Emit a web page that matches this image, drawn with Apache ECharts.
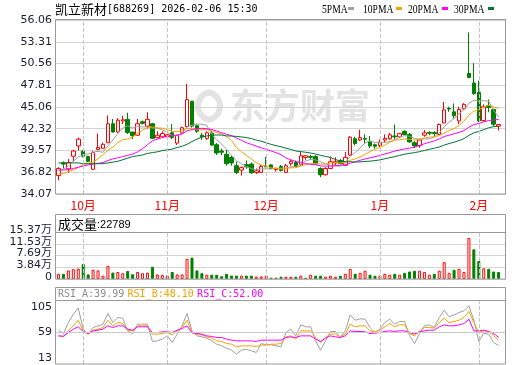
<!DOCTYPE html>
<html><head><meta charset="utf-8">
<script src="https://cdn.jsdelivr.net/npm/echarts@6/dist/echarts.min.js"></script>
<style>html,body{margin:0;padding:0;background:#fff}#c{width:520px;height:365px}</style>
</head><body><div id="c"></div>
<script>
const dates = ['2025-09-24','2025-09-25','2025-09-26','2025-09-29','2025-09-30',
'2025-10-09','2025-10-10','2025-10-13','2025-10-14','2025-10-15','2025-10-16','2025-10-17','2025-10-20','2025-10-21','2025-10-22','2025-10-23','2025-10-24','2025-10-27','2025-10-28','2025-10-29','2025-10-30','2025-10-31',
'2025-11-03','2025-11-04','2025-11-05','2025-11-06','2025-11-07','2025-11-10','2025-11-11','2025-11-12','2025-11-13','2025-11-14','2025-11-17','2025-11-18','2025-11-19','2025-11-20','2025-11-21','2025-11-24','2025-11-25','2025-11-26','2025-11-27','2025-11-28',
'2025-12-01','2025-12-02','2025-12-03','2025-12-04','2025-12-05','2025-12-08','2025-12-09','2025-12-10','2025-12-11','2025-12-12','2025-12-15','2025-12-16','2025-12-17','2025-12-18','2025-12-19','2025-12-22','2025-12-23','2025-12-24','2025-12-25','2025-12-26','2025-12-29','2025-12-30','2025-12-31',
'2026-01-05','2026-01-06','2026-01-07','2026-01-08','2026-01-09','2026-01-12','2026-01-13','2026-01-14','2026-01-15','2026-01-16','2026-01-19','2026-01-20','2026-01-21','2026-01-22','2026-01-23','2026-01-26','2026-01-27','2026-01-28','2026-01-29','2026-01-30',
'2026-02-02','2026-02-03','2026-02-04','2026-02-05','2026-02-06'];
const monthStarts = ['2025-10-09','2025-11-03','2025-12-01','2026-01-05','2026-02-02'];
const monthNames = ['10月','11月','12月','1月','2月'];

const opens = [36.4,38.0,37.25,38.85,40.15,39.5,38.8,37.2,39.7,39.85,40.55,42.95,41.9,43.3,43.5,41.9,41.5,43.2,42.65,42.95,41.2,41.3,41.3,41.8,40.5,41.8,42.6,45.8,42.7,41.5,41.1,41.75,40.3,39.5,39.1,38.7,37.65,37.1,37.8,37.85,36.8,36.8,37.6,37.75,37.15,37.55,36.8,37.9,38.05,37.75,38.7,38.8,38.8,37.3,36.5,37.3,38.0,38.3,37.7,39.0,41.05,40.9,41.1,40.65,40.3,40.2,40.9,41.05,41.4,41.3,42.0,41.6,40.55,40.2,41.5,41.85,41.85,41.6,43.05,44.9,44.45,43.3,44.85,49.3,48.1,46.9,43.35,45.25,44.75,42.65];
const closes = [37.3,37.85,38.05,39.5,41.0,38.85,38.2,39.3,39.95,40.35,42.95,41.9,43.4,43.45,41.85,41.45,42.95,43.0,43.5,41.1,41.5,41.7,41.55,41.2,41.5,42.45,46.0,42.65,42.0,41.3,41.8,40.25,39.25,39.35,37.9,38.0,36.8,37.4,37.5,36.75,37.0,37.55,37.5,37.3,37.3,37.05,37.65,38.2,37.55,38.9,38.9,38.7,37.85,36.5,37.3,38.15,38.15,37.9,38.7,41.25,40.45,41.2,41.0,40.15,40.1,40.6,41.1,41.55,41.3,41.7,41.6,40.65,40.15,40.9,41.8,41.75,41.7,42.85,44.7,44.8,43.95,44.75,45.4,48.8,46.75,43.3,45.1,45.0,42.9,42.85];
const lows = [35.8,37.3,36.75,38.15,39.55,38.7,38.1,37.1,39.6,39.75,40.5,41.85,41.8,42.9,41.65,41.0,41.4,42.85,42.35,41.0,41.1,41.2,41.1,41.0,40.25,41.7,42.5,42.45,41.8,40.9,40.9,40.15,39.0,39.0,37.65,37.65,36.6,36.4,37.25,36.6,36.6,36.75,37.45,37.25,36.9,36.9,36.75,37.65,37.45,37.65,38.4,38.4,37.8,36.2,36.4,37.25,37.7,37.8,37.6,38.9,40.2,40.75,40.45,39.9,39.8,40.0,40.55,40.95,40.95,41.2,41.5,40.55,39.9,39.9,41.3,41.5,41.3,41.5,43.0,44.45,43.6,42.9,44.7,48.7,46.6,43.15,43.2,44.4,42.65,42.1];
const highs = [37.45,38.2,38.5,39.65,41.2,39.6,38.9,39.5,41.7,40.55,44.0,43.55,43.65,43.95,44.35,41.9,43.55,43.35,44.4,43.0,42.0,42.0,41.8,42.9,41.55,42.6,48.0,45.8,42.85,41.75,42.0,42.0,40.5,39.8,39.65,38.9,38.15,37.55,38.3,38.05,37.3,37.75,38.75,37.85,37.4,37.75,37.85,38.4,38.3,39.4,39.0,39.0,39.0,37.45,37.45,38.8,38.7,38.5,39.4,41.4,41.3,42.2,41.6,41.4,40.45,40.95,41.6,41.8,42.85,41.8,42.1,41.8,40.75,41.05,42.15,42.0,42.0,43.0,45.7,45.1,45.5,45.1,45.55,54.5,50.6,48.4,45.4,46.0,44.85,42.9];

const ma5 = [37.0,37.2,37.6,38.2,38.74,39.05,39.12,39.37,39.46,39.33,40.15,40.89,41.71,42.41,42.71,42.41,42.62,42.54,42.55,42.4,42.41,42.16,41.87,41.41,41.49,41.68,42.54,42.76,42.92,42.88,42.75,41.6,40.92,40.39,39.71,38.95,38.26,37.89,37.52,37.29,37.09,37.24,37.26,37.22,37.33,37.34,37.36,37.5,37.55,37.87,38.24,38.45,38.38,38.17,37.85,37.7,37.59,37.6,38.04,38.83,39.29,39.9,40.52,40.81,40.58,40.61,40.59,40.7,40.93,41.25,41.45,41.36,41.08,41.0,41.02,41.05,41.26,41.8,42.56,43.16,43.6,44.21,44.72,45.54,45.93,45.8,45.87,45.79,44.61,43.83];
const ma10 = [36.6,36.65,36.9,37.1,37.4,37.8,37.95,38.1,38.5,39.04,39.6,40.0,40.54,40.94,41.02,41.28,41.76,42.13,42.48,42.56,42.41,42.39,42.21,41.98,41.95,42.05,42.35,42.32,42.17,42.19,42.22,42.07,41.84,41.66,41.3,40.85,39.93,39.41,38.96,38.5,38.02,37.75,37.58,37.37,37.31,37.22,37.3,37.38,37.39,37.6,37.79,37.91,37.94,37.86,37.86,37.97,38.02,37.99,38.11,38.34,38.5,38.75,39.06,39.43,39.71,39.95,40.25,40.61,40.87,40.92,41.03,40.98,40.89,40.97,41.14,41.25,41.31,41.44,41.78,42.09,42.33,42.74,43.26,44.05,44.55,44.7,45.04,45.26,45.08,44.88];
const ma20 = [37.1,37.1,37.15,37.3,37.45,37.6,37.75,37.85,37.95,38.05,38.3,38.5,38.65,38.8,38.95,39.1,39.4,39.8,40.3,40.8,41.0,41.2,41.37,41.46,41.48,41.66,42.05,42.22,42.32,42.37,42.31,42.23,42.02,41.82,41.62,41.45,41.14,40.86,40.56,40.34,40.12,39.91,39.71,39.51,39.3,39.03,38.62,38.39,38.17,38.05,37.9,37.83,37.76,37.62,37.59,37.59,37.66,37.69,37.75,37.97,38.14,38.33,38.5,38.64,38.78,38.96,39.13,39.3,39.49,39.63,39.76,39.86,39.98,40.2,40.42,40.6,40.78,41.03,41.33,41.5,41.68,41.86,42.08,42.51,42.84,42.98,43.18,43.35,43.43,43.49];
const ma30 = [38.0,38.0,38.0,38.0,38.0,37.9,37.9,37.9,37.9,37.9,38.0,38.1,38.2,38.4,38.6,38.8,38.9,39.0,39.2,39.3,39.4,39.55,39.65,39.75,39.95,40.1,40.35,40.7,41.0,41.26,41.41,41.49,41.53,41.52,41.42,41.39,41.35,41.28,41.2,41.08,40.88,40.74,40.54,40.34,40.18,40.04,39.86,39.7,39.5,39.43,39.34,39.24,39.12,38.96,38.82,38.68,38.42,38.26,38.15,38.15,38.1,38.13,38.19,38.22,38.29,38.38,38.52,38.66,38.79,38.95,39.1,39.21,39.3,39.42,39.57,39.72,39.86,40.01,40.25,40.45,40.62,40.82,41.07,41.48,41.8,41.97,42.2,42.44,42.58,42.63];

const volumes = [17000,17000,28000,32000,34000,49000,15000,30000,28000,11000,43000,21000,23000,19000,26000,15500,23000,19000,21000,40000,15000,13000,11000,23000,15000,15000,66000,70000,28000,19000,14000,14000,14000,9000,17000,11000,11000,11000,11000,11000,8000,8500,10700,4300,4300,7500,7500,7500,7500,10700,4300,13900,10700,10700,7500,10700,7500,10700,17000,33000,17000,20000,27000,14000,10700,10700,17000,14000,17000,14000,20000,24500,27000,27000,23000,14000,17000,27000,55000,20000,30000,33000,23000,134000,97000,59000,35000,33000,24500,22789];
const volUp = [1,0,1,1,1,0,0,1,1,1,1,0,1,1,0,0,1,1,1,0,1,1,1,0,1,1,1,0,0,0,1,0,0,0,0,0,0,1,0,0,1,1,1,0,1,0,1,1,0,1,0,1,0,0,1,1,1,0,1,1,0,1,1,0,0,1,1,1,0,1,0,0,0,1,1,1,0,1,1,1,0,1,1,1,0,0,1,0,0,0];

const rsiA = [62.4,57.5,73.6,85.8,94.6,63.9,56.6,66.3,68.7,71.2,86.8,73.6,80.9,79.9,61.4,57.5,71.2,71.2,71.2,45.9,46.8,49.3,54.1,44.4,56.6,68.7,86.8,61.4,54.1,52.7,50.7,46.8,42.0,39.5,36.1,33.2,27.3,33.2,34.6,32.2,29.8,42.9,41.0,41.0,39.5,38.1,59.0,63.9,54.1,70.2,67.3,67.3,46.8,33.2,46.8,60.5,60.5,51.7,61.4,84.8,77.0,79.0,78.5,66.3,59.0,63.9,73.6,78.5,71.2,75.1,75.1,54.1,42.9,57.5,68.7,70.2,66.3,80.9,91.6,81.9,84.8,88.2,90.7,98.0,77.0,45.9,57.5,56.6,44.4,39.99];
const rsiB = [54.1,52.7,61.4,68.7,77.0,61.4,56.6,62.4,63.9,66.3,77.0,68.7,73.6,72.1,62.4,61.4,68.7,68.7,68.7,56.6,56.6,57.5,59.0,55.6,61.4,66.3,77.0,59.0,56.6,55.6,52.7,50.7,46.8,45.9,42.9,41.95,38.1,39.5,39.5,39.5,38.1,41.0,40.5,41.95,41.95,42.9,52.7,54.1,49.3,61.4,61.4,61.4,51.7,44.4,51.7,56.6,56.6,52.7,56.6,71.2,67.3,68.7,68.7,61.4,60.0,62.4,67.3,72.1,67.3,70.2,70.2,57.5,54.1,61.4,66.3,66.3,65.3,73.6,79.9,73.6,75.1,77.0,80.9,89.7,73.6,59.0,61.4,60.5,54.1,48.10];
const rsiC = [54.1,53.6,59.0,63.9,67.3,60.5,57.5,61.4,62.4,63.9,68.7,66.3,68.7,68.7,63.9,62.4,67.3,67.3,67.3,59.0,59.0,60.0,60.0,59.0,62.4,64.8,68.7,58.5,57.5,56.6,54.1,53.2,51.7,51.7,49.3,47.8,46.8,46.8,46.8,46.8,45.9,47.8,47.8,47.8,47.8,47.8,51.7,52.7,51.7,54.1,54.1,54.1,49.3,45.9,50.7,54.1,52.7,51.7,54.1,61.4,60.5,60.5,60.0,57.5,58.0,59.0,60.5,61.4,60.5,61.4,61.4,59.0,56.6,60.0,61.4,62.4,62.4,67.3,70.2,68.7,68.7,70.2,72.1,78.5,61.4,61.4,62.4,60.5,57.5,52.00];

const priceTicks = ['34.07','36.82','39.57','42.32','45.06','47.81','50.56','53.31','56.06'];
const volTicks = ['0','3.84万','7.69万','11.53万','15.37万'];
const volTickValues = [0,38425,76850,115275,153700];
const rsiTicks = ['13','59','105'];
const lastVolume = '22789';

const priceTickValues = priceTicks.map(Number);
const rsiTickValues = rsiTicks.map(Number);

const chart = echarts.init(document.getElementById('c'), null, {renderer:'canvas', width:520, height:365});
const cats = dates.concat(['']);
const LBL = {fontFamily:'DejaVu Sans', fontSize:11, color:'#1a1a33'};
const monthLines = monthStarts.map(d => ({xAxis: d}));
const mkLine = (extra) => ({silent:true, symbol:['none','none'], label:{show:false}, animation:false,
  lineStyle:{type:'dashed', color:'#c6c6c6', width:1}, data: monthLines.concat(extra || [])});
const idxOf = (arr, v) => arr.findIndex(t => Math.abs(t - v) < 1e-6);

const G = [{left:56, top:20, width:450, height:174},{left:56, top:232, width:450, height:47},{left:56, top:301, width:450, height:63}];

const option = {
  animation:false,
  backgroundColor:'#ffffff',
  grid: G,
  xAxis: [0,1,2].map(g => ({
    type:'category', gridIndex:g, data:cats, boundaryGap:true,
    axisLine:{show:false}, axisTick:{show:false}, splitLine:{show:false},
    axisLabel: g === 0 ? {
      show:true, color:'#ff0000', fontSize:12, fontFamily:'Noto Sans CJK SC', margin:5,
      interval:(i, v) => monthStarts.indexOf(v) >= 0,
      formatter: v => monthNames[monthStarts.indexOf(v)] || ''
    } : {show:false}
  })),
  yAxis: [
    {type:'value', gridIndex:0, min:34.07, max:56.06, scale:true,
     axisLine:{show:false}, axisTick:{show:false, customValues:priceTickValues},
     axisLabel:Object.assign({customValues:priceTickValues, margin:4,
       formatter: v => { const k = idxOf(priceTickValues, v); return k >= 0 ? priceTicks[k] : ''; }}, LBL),
     splitLine:{show:true, lineStyle:{color:'#d4d4d4', width:1}}},
    {type:'value', gridIndex:1, min:0, max:153700,
     axisLine:{show:false}, axisTick:{show:false, customValues:volTickValues},
     axisLabel:{customValues:volTickValues, margin:4,
       formatter: v => { const k = idxOf(volTickValues, v); return k >= 0 ? '{a|' + volTicks[k] + '}' : ''; },
       rich:{a:{fontFamily:"'DejaVu Sans','Noto Sans CJK SC'", fontSize:11, color:'#1a1a33', padding:[0,0,4,0]}}},
     splitLine:{show:true, lineStyle:{color:'#d4d4d4', width:1}}},
    {type:'value', gridIndex:2, min:13, max:105,
     axisLine:{show:false}, axisTick:{show:false, customValues:rsiTickValues},
     axisLabel:{customValues:rsiTickValues, margin:4,
       formatter: v => { const k = idxOf(rsiTickValues, v); return k < 0 ? '' : (k === 0 ? '{b|' : k === 2 ? '{t|' : '{m|') + rsiTicks[k] + '}'; },
       rich:{
         b:{fontFamily:'DejaVu Sans', fontSize:11, color:'#1a1a33', padding:[0,0,12,0]},
         m:{fontFamily:'DejaVu Sans', fontSize:11, color:'#1a1a33'},
         t:{fontFamily:'DejaVu Sans', fontSize:11, color:'#1a1a33', padding:[12,0,0,0]}}},
     splitLine:{show:false}}
  ],
  series: [
    {type:'candlestick', name:'K', xAxisIndex:0, yAxisIndex:0, barWidth:4, z:2,
     data: opens.map((o, i) => [o, closes[i], lows[i], highs[i]]),
     itemStyle:{color:'#ffffff', color0:'#008000', borderColor:'#ff0000', borderColor0:'#008000', borderWidth:1},
     markLine: mkLine()},
    {type:'line', name:'5PMA', xAxisIndex:0, yAxisIndex:0, data:ma5, symbol:'none', z:3, lineStyle:{color:'#a0a0a0', width:1}},
    {type:'line', name:'10PMA', xAxisIndex:0, yAxisIndex:0, data:ma10, symbol:'none', z:3, lineStyle:{color:'#f5a300', width:1}},
    {type:'line', name:'20PMA', xAxisIndex:0, yAxisIndex:0, data:ma20, symbol:'none', z:3, lineStyle:{color:'#ff00ff', width:1}},
    {type:'line', name:'30PMA', xAxisIndex:0, yAxisIndex:0, data:ma30, symbol:'none', z:3, lineStyle:{color:'#007535', width:1}},
    {type:'bar', name:'VOL', xAxisIndex:1, yAxisIndex:1, barWidth:3,
     data: volumes.map((v, i) => ({value:v, itemStyle: volUp[i]
       ? {color:'#ffffff', borderColor:'#ff0000', borderWidth:1}
       : {color:'#008000', borderColor:'#008000', borderWidth:1}})),
     markLine: mkLine()},
    {type:'line', name:'RSI_A', xAxisIndex:2, yAxisIndex:2, data:rsiA, symbol:'none', z:3, lineStyle:{color:'#a0a0a0', width:1},
     markLine: mkLine([{yAxis:59, lineStyle:{type:'solid', color:'#cccccc', width:1}}])},
    {type:'line', name:'RSI_B', xAxisIndex:2, yAxisIndex:2, data:rsiB, symbol:'none', z:3, lineStyle:{color:'#f5a300', width:1}},
    {type:'line', name:'RSI_C', xAxisIndex:2, yAxisIndex:2, data:rsiC, symbol:'none', z:3, lineStyle:{color:'#ff00ff', width:1}}
  ],
  graphic: [
    {type:'text', z:0, x:300, y:106, style:{text:'东方财富', font:'bold 35px "Noto Sans CJK SC"', fill:'#e3e3e3', align:'center', verticalAlign:'middle', textAlign:'center', textVerticalAlign:'middle'}},
    {type:'arc', z:0, shape:{cx:212, cy:106, r:14, startAngle:Math.PI*0.55, endAngle:Math.PI*1.45}, style:{stroke:'#e3e3e3', lineWidth:6, fill:'none'}},
    {type:'arc', z:0, shape:{cx:206, cy:106, r:14, startAngle:-Math.PI*0.45, endAngle:Math.PI*0.45}, style:{stroke:'#e3e3e3', lineWidth:6, fill:'none'}},
    {type:'text', z:50, x:55, y:9.5, style:{text:'{c|凯立新材}{e|[688269] 2026-02-06 15:30}', verticalAlign:'middle', textVerticalAlign:'middle',
      rich:{c:{fontSize:13, fontFamily:'Noto Sans CJK SC', fill:'#000'}, e:{fontSize:10, fontFamily:'DejaVu Sans Mono', fill:'#000'}}}},
    {type:'text', z:50, x:322, y:9.5, scaleX:0.8, style:{text:'5PMA', font:'12px "Liberation Serif"', fill:'#000', verticalAlign:'middle', textVerticalAlign:'middle'}},
    {type:'rect', z:50, shape:{x:348, y:7, width:6, height:3}, style:{fill:'#a0a0a0'}},
    {type:'text', z:50, x:363, y:9.5, scaleX:0.8, style:{text:'10PMA', font:'12px "Liberation Serif"', fill:'#000', verticalAlign:'middle', textVerticalAlign:'middle'}},
    {type:'rect', z:50, shape:{x:396, y:7, width:6, height:3}, style:{fill:'#f5a300'}},
    {type:'text', z:50, x:408, y:9.5, scaleX:0.8, style:{text:'20PMA', font:'12px "Liberation Serif"', fill:'#000', verticalAlign:'middle', textVerticalAlign:'middle'}},
    {type:'rect', z:50, shape:{x:442, y:7, width:6, height:3}, style:{fill:'#ff00ff'}},
    {type:'text', z:50, x:454, y:9.5, scaleX:0.8, style:{text:'30PMA', font:'12px "Liberation Serif"', fill:'#000', verticalAlign:'middle', textVerticalAlign:'middle'}},
    {type:'rect', z:50, shape:{x:488, y:7, width:6, height:3}, style:{fill:'#007535'}},
    {type:'rect', z:100, shape:{x:55.5, y:19.5, width:450, height:174.5}, style:{stroke:'#9a9a9a', fill:'none', lineWidth:1}},
    {type:'rect', z:100, shape:{x:55.5, y:214.5, width:450, height:64.5}, style:{stroke:'#9a9a9a', fill:'none', lineWidth:1}},
    {type:'line', z:100, shape:{x1:56, y1:232.5, x2:506, y2:232.5}, style:{stroke:'#9a9a9a', lineWidth:1}},
    {type:'rect', z:100, shape:{x:55.5, y:287.5, width:450, height:76.5}, style:{stroke:'#9a9a9a', fill:'none', lineWidth:1}},
    {type:'line', z:100, shape:{x1:56, y1:300.5, x2:506, y2:300.5}, style:{stroke:'#9a9a9a', lineWidth:1}},
    {type:'text', z:50, x:58, y:224.5, style:{text:'{c|成交量}{n|:' + lastVolume + '}', verticalAlign:'middle', textVerticalAlign:'middle',
      rich:{c:{fontSize:13, fontFamily:'Noto Sans CJK SC', fill:'#000'}, n:{fontSize:11, fontFamily:'Liberation Sans', fill:'#000'}}}},
    {type:'text', z:50, x:58, y:294.5, style:{text:'{a|RSI_A:' + rsiA[rsiA.length-1].toFixed(2) + '} {b|RSI_B:' + rsiB[rsiB.length-1].toFixed(2) + '} {c|RSI_C:' + rsiC[rsiC.length-1].toFixed(2) + '}',
      verticalAlign:'middle', textVerticalAlign:'middle',
      rich:{a:{fontSize:10, fontFamily:'DejaVu Sans Mono', fill:'#8c8c8c'}, b:{fontSize:10, fontFamily:'DejaVu Sans Mono', fill:'#f5a300'}, c:{fontSize:10, fontFamily:'DejaVu Sans Mono', fill:'#ff00ff'}}}}
  ]
};
chart.setOption(option);
</script>
</body></html>
